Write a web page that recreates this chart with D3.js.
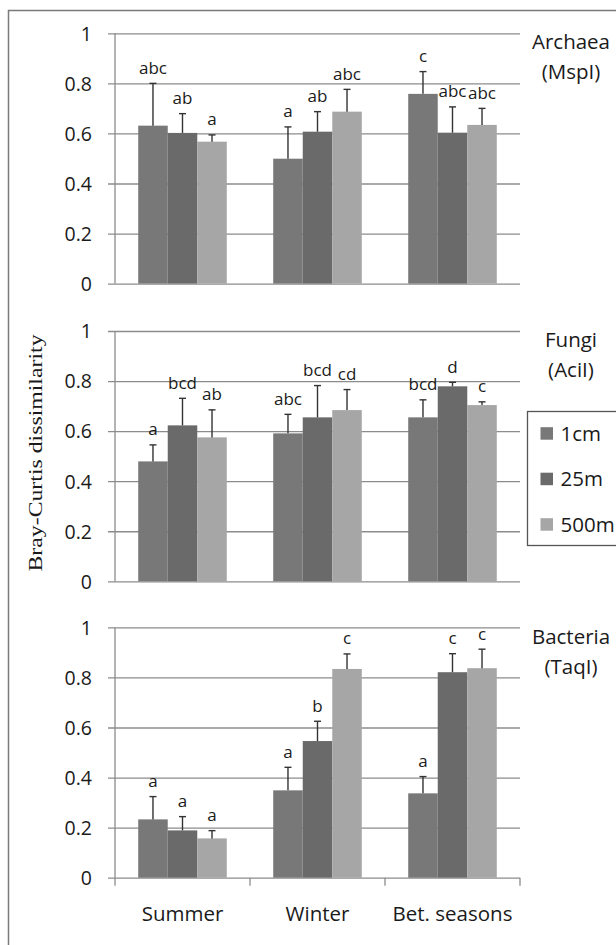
<!DOCTYPE html>
<html>
<head>
<meta charset="utf-8">
<script src="https://cdn.jsdelivr.net/npm/d3@7"></script>
<style>
  html, body { margin: 0; padding: 0; background: #fff; }
  svg { display: block; }
  text { font-family: "Open Sans", "DejaVu Sans", sans-serif; fill: #1a1a1a; }
</style>
</head>
<body>
<svg id="chart" width="616" height="945"></svg>
<script>
// ---------------- data ----------------
const categories = ["Summer", "Winter", "Bet. seasons"];
const series = ["1cm", "25m", "500m"];
const panelNames = ["Archaea", "Fungi", "Bacteria"];
const enzymes = ["(MspI)", "(AciI)", "(TaqI)"];
const yTicks = [0, 0.2, 0.4, 0.6, 0.8, 1];
const yTickLabels = ["0", "0.2", "0.4", "0.6", "0.8", "1"];
const yTitle = "Bray-Curtis dissimilarity";

// values per category: [1cm, 25m, 500m]
const archaeaMean = [[0.631, 0.602, 0.567], [0.499, 0.607, 0.687], [0.758, 0.603, 0.634]];
const archaeaErr  = [[0.169, 0.077, 0.027], [0.127, 0.080, 0.089], [0.089, 0.103, 0.066]];
const archaeaSig  = [["abc", "ab", "a"], ["a", "ab", "abc"], ["c", "abc", "abc"]];

const fungiMean = [[0.479, 0.623, 0.575], [0.591, 0.655, 0.684], [0.655, 0.779, 0.704]];
const fungiErr  = [[0.066, 0.108, 0.110], [0.076, 0.127, 0.082], [0.070, 0.016, 0.013]];
const fungiSig  = [["a", "bcd", "ab"], ["abc", "bcd", "cd"], ["bcd", "d", "c"]];

const bacteriaMean = [[0.233, 0.189, 0.157], [0.349, 0.546, 0.834], [0.337, 0.821, 0.837]];
const bacteriaErr  = [[0.091, 0.055, 0.031], [0.092, 0.079, 0.060], [0.067, 0.074, 0.076]];
const bacteriaSig  = [["a", "a", "a"], ["a", "b", "c"], ["a", "c", "c"]];

const panelMeans = [archaeaMean, fungiMean, bacteriaMean];
const panelErrs = [archaeaErr, fungiErr, bacteriaErr];
const panelSigs = [archaeaSig, fungiSig, bacteriaSig];

// ---------------- styles ----------------
const colors = ["#787878", "#6a6a6a", "#a6a6a6"];
const gridColor = "#8c8c8c";
const errColor = "#333";

const svg = d3.select("#chart");

// outer frame (extends past the right/bottom edge)
svg.append("rect")
  .attr("x", 8.5).attr("y", 10.5).attr("width", 700).attr("height", 1000)
  .attr("fill", "none").attr("stroke", "#7a7a7a").attr("stroke-width", 1.5);

const plotLeft = 115, plotRight = 520;
const panelTops = [33.3, 331, 627.4];
const panelH = 250.3;

const x = d3.scaleBand().domain(categories).range([plotLeft, plotRight]).padding(0);
const bw = x.bandwidth();
const x1 = d3.scaleBand().domain(series).range([bw * 0.172, bw * 0.828]).padding(0);

panelNames.forEach((name, pi) => {
  const top = panelTops[pi];
  const y = d3.scaleLinear().domain([0, 1]).range([top + panelH, top]);
  const g = svg.append("g");

  // gridlines (with outside tick stub on left)
  const grid = g.append("g")
    .attr("transform", `translate(${plotLeft - 7},0)`)
    .call(d3.axisRight(y).tickValues(yTicks).tickSize(plotRight - plotLeft + 7).tickFormat(""));
  grid.select(".domain").remove();
  grid.selectAll("line").attr("stroke", gridColor).attr("stroke-width", 1.3);

  // y tick labels
  const yl = g.append("g")
    .attr("transform", `translate(${plotLeft},0)`)
    .call(d3.axisLeft(y).tickValues(yTicks).tickSize(0).tickPadding(23)
      .tickFormat((d, i) => yTickLabels[i]));
  yl.select(".domain").remove();
  yl.selectAll("text")
    .style("font-family", '"Open Sans", sans-serif')
    .attr("font-size", 19.5).attr("fill", "#1a1a1a").attr("dy", "0.35em");

  // y axis line
  g.append("line")
    .attr("x1", plotLeft).attr("x2", plotLeft)
    .attr("y1", y(0)).attr("y2", y(1))
    .attr("stroke", gridColor).attr("stroke-width", 1.3);

  const means = panelMeans[pi], errs = panelErrs[pi], sigs = panelSigs[pi];
  const rows = [];
  categories.forEach((c, ci) => series.forEach((s, si) => {
    rows.push({ c, s, si, v: means[ci][si], e: errs[ci][si], t: sigs[ci][si] });
  }));

  // bars
  g.selectAll("rect.bar").data(rows).join("rect")
    .attr("class", "bar")
    .attr("x", d => x(d.c) + x1(d.s))
    .attr("width", x1.bandwidth())
    .attr("y", d => y(d.v))
    .attr("height", d => y(0) - y(d.v))
    .attr("fill", d => colors[d.si]);

  // error bars (upper only)
  const cx = d => x(d.c) + x1(d.s) + x1.bandwidth() / 2;
  g.selectAll("line.err").data(rows).join("line")
    .attr("class", "err")
    .attr("x1", cx).attr("x2", cx)
    .attr("y1", d => y(d.v)).attr("y2", d => y(d.v + d.e))
    .attr("stroke", errColor).attr("stroke-width", 1.4);
  g.selectAll("line.cap").data(rows).join("line")
    .attr("class", "cap")
    .attr("x1", d => cx(d) - 3.5).attr("x2", d => cx(d) + 3.5)
    .attr("y1", d => y(d.v + d.e)).attr("y2", d => y(d.v + d.e))
    .attr("stroke", errColor).attr("stroke-width", 1.4);

  // significance letters
  g.selectAll("text.sig").data(rows).join("text")
    .attr("class", "sig")
    .attr("x", cx)
    .attr("y", d => y(d.v + d.e) - 9.5)
    .attr("text-anchor", "middle")
    .attr("font-size", 17)
    .text(d => d.t);

  // panel title
  g.append("text")
    .attr("x", 571).attr("y", top + 9).attr("dy", "0.35em")
    .attr("text-anchor", "middle").attr("font-size", 20.5)
    .text(name);
  g.append("text")
    .attr("x", 571).attr("y", top + 39).attr("dy", "0.35em")
    .attr("text-anchor", "middle").attr("font-size", 20.5)
    .text(enzymes[pi]);

  // x axis on bottom panel
  if (pi === panelNames.length - 1) {
    const bounds = categories.map(c => x(c)).concat([x(categories[categories.length - 1]) + bw]);
    g.selectAll("line.xtick").data(bounds).join("line")
      .attr("class", "xtick")
      .attr("x1", d => d).attr("x2", d => d)
      .attr("y1", y(0)).attr("y2", y(0) + 8)
      .attr("stroke", gridColor).attr("stroke-width", 1.3);
    const xa = g.append("g")
      .attr("transform", `translate(0,${y(0)})`)
      .call(d3.axisBottom(x).tickSize(0).tickPadding(29));
    xa.select(".domain").remove();
    xa.selectAll("text")
      .style("font-family", '"Open Sans", sans-serif')
      .attr("font-size", 20.5).attr("fill", "#1a1a1a");
  }
});

// y-axis title
svg.append("text")
  .attr("transform", "translate(42,453) rotate(-90)")
  .attr("text-anchor", "middle")
  .style("font-family", '"Liberation Serif", "DejaVu Serif", serif')
  .attr("font-size", 19.5)
  .attr("textLength", 237)
  .attr("lengthAdjust", "spacingAndGlyphs")
  .text(yTitle);

// legend
const lg = svg.append("g");
lg.append("rect")
  .attr("x", 527.5).attr("y", 411.5).attr("width", 120).attr("height", 134)
  .attr("fill", "#fff").attr("stroke", "#555").attr("stroke-width", 1.3);
const legRows = lg.selectAll("g.item").data(series).join("g")
  .attr("class", "item")
  .attr("transform", (d, i) => `translate(540.5,${433.5 + i * 45.5})`);
legRows.append("rect")
  .attr("x", 0).attr("y", -6.3).attr("width", 12.5).attr("height", 12.5)
  .attr("fill", (d, i) => colors[i]);
legRows.append("text")
  .attr("x", 20).attr("y", 0).attr("dy", "0.35em")
  .attr("font-size", 20.5)
  .text(d => d);
</script>
</body>
</html>
